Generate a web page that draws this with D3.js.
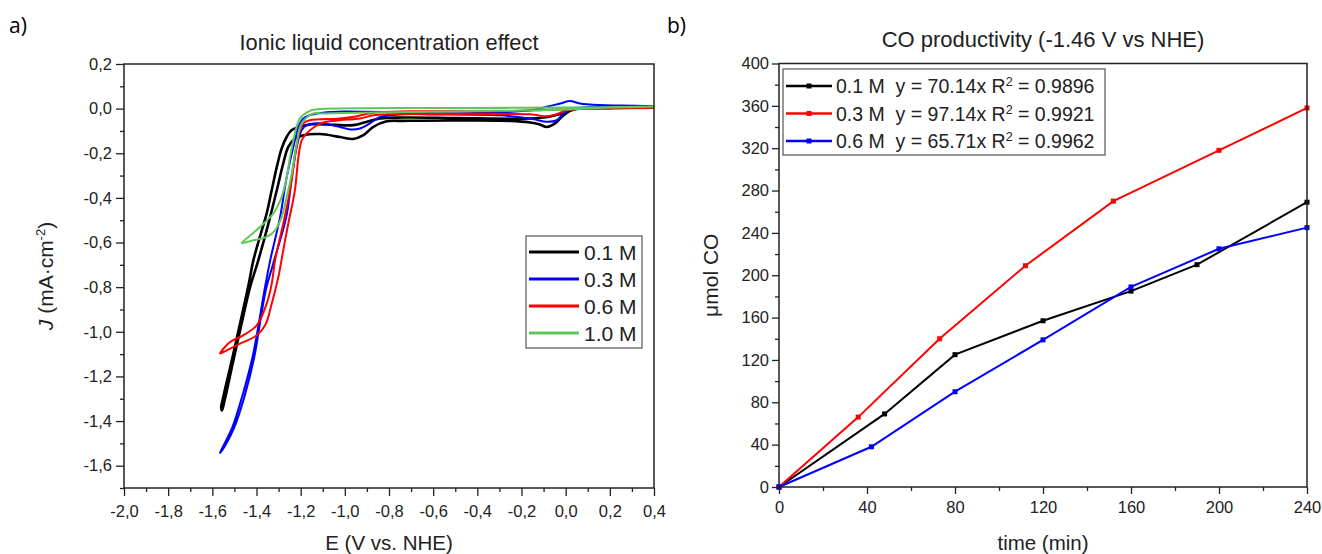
<!DOCTYPE html>
<html>
<head>
<meta charset="utf-8">
<script src="https://cdn.jsdelivr.net/npm/d3@7"></script>
<style>
  body { margin: 0; background: #fff; }
  text { font-family: "Liberation Sans", Arial, sans-serif; fill: #222; }
  .panel { font-family: "Open Sans", "Noto Sans", sans-serif; font-size: 21px; fill: #000; }
</style>
</head>
<body>
<script>
// ---------- data: panel a (cyclic voltammograms, E in V, J in mA/cm2) ----------
const cvLabels = ["0.1 M", "0.3 M", "0.6 M", "1.0 M"];
const cvColors = ["#000000", "#0000ff", "#ff0000", "#5ec85e"];

const cv01 = [[0.40,0.006],[0.25,0.005],[0.12,0.002],[0.065,0.001],[0.02,-0.01],[-0.018,-0.037],[-0.048,-0.066],
  [-0.086,-0.082],[-0.12,-0.07],[-0.161,-0.062],[-0.25,-0.055],[-0.45,-0.053],[-0.65,-0.054],[-0.735,-0.055],
  [-0.81,-0.057],[-0.871,-0.082],[-0.916,-0.119],[-0.962,-0.136],[-1.022,-0.127],[-1.112,-0.114],[-1.188,-0.119],
  [-1.226,-0.134],[-1.256,-0.171],[-1.279,-0.246],[-1.308,-0.365],[-1.346,-0.515],[-1.392,-0.68],[-1.429,-0.80],
  [-1.46,-0.93],[-1.505,-1.13],[-1.545,-1.31],[-1.556,-1.352],[-1.560,-1.34],[-1.55,-1.29],[-1.51,-1.12],
  [-1.465,-0.92],[-1.435,-0.785],[-1.414,-0.679],[-1.376,-0.545],[-1.354,-0.47],[-1.331,-0.365],[-1.308,-0.261],
  [-1.286,-0.178],[-1.263,-0.126],[-1.24,-0.096],[-1.21,-0.084],[-1.15,-0.07],[-1.05,-0.073],[-0.962,-0.074],
  [-0.9,-0.059],[-0.84,-0.044],[-0.735,-0.04],[-0.5,-0.042],[-0.2,-0.045],[-0.1,-0.04],[-0.03,-0.025],
  [0.03,-0.005],[0.1,0.003],[0.25,0.005],[0.40,0.006]];

const cv03 = [[0.40,0.011],[0.3,0.012],[0.15,0.01],[0.065,0.004],[0.035,0.001],[-0.01,-0.022],[-0.04,-0.052],
  [-0.086,-0.059],[-0.15,-0.046],[-0.3,-0.03],[-0.6,-0.026],[-0.735,-0.025],[-0.84,-0.037],[-0.886,-0.066],
  [-0.931,-0.089],[-0.976,-0.093],[-1.022,-0.082],[-1.112,-0.066],[-1.173,-0.074],[-1.195,-0.096],[-1.218,-0.171],
  [-1.24,-0.306],[-1.265,-0.485],[-1.32,-0.68],[-1.358,-0.814],[-1.382,-0.948],[-1.41,-1.113],[-1.455,-1.292],
  [-1.50,-1.427],[-1.545,-1.515],[-1.565,-1.543],[-1.562,-1.535],[-1.51,-1.43],[-1.465,-1.29],[-1.418,-1.113],
  [-1.387,-0.948],[-1.364,-0.814],[-1.338,-0.68],[-1.293,-0.485],[-1.263,-0.306],[-1.233,-0.171],[-1.21,-0.082],
  [-1.188,-0.044],[-1.158,-0.029],[-1.1,-0.018],[-1.0,-0.013],[-0.7,-0.018],[-0.4,-0.02],[-0.15,-0.006],
  [-0.086,0.008],[-0.025,0.023],[0.02,0.034],[0.065,0.023],[0.156,0.016],[0.25,0.014],[0.40,0.011]];

const cv06 = [[0.40,0.003],[0.2,0.0],[0.05,-0.002],[0.005,-0.007],[-0.04,-0.025],[-0.086,-0.034],[-0.16,-0.025],
  [-0.4,-0.025],[-0.8,-0.025],[-0.871,-0.03],[-0.931,-0.044],[-1.022,-0.052],[-1.09,-0.06],[-1.135,-0.08],
  [-1.173,-0.111],[-1.195,-0.141],[-1.21,-0.216],[-1.226,-0.365],[-1.256,-0.515],[-1.279,-0.635],[-1.301,-0.754],
  [-1.331,-0.874],[-1.361,-0.971],[-1.399,-1.016],[-1.475,-1.053],[-1.535,-1.083],[-1.565,-1.098],[-1.52,-1.046],
  [-1.46,-1.016],[-1.399,-0.971],[-1.354,-0.874],[-1.331,-0.784],[-1.316,-0.68],[-1.279,-0.515],[-1.248,-0.365],
  [-1.226,-0.216],[-1.21,-0.126],[-1.188,-0.066],[-1.158,-0.052],[-1.022,-0.044],[-0.95,-0.035],[-0.87,-0.018],
  [-0.7,-0.012],[-0.3,-0.012],[-0.1,-0.006],[0.05,0.0],[0.40,0.004]];

const cv10 = [[0.40,0.008],[0.15,0.003],[0.0,-0.004],[-0.3,-0.01],[-0.7,-0.015],[-1.0,-0.02],[-1.1,-0.022],
  [-1.143,-0.022],[-1.195,-0.066],[-1.218,-0.156],[-1.24,-0.29],[-1.263,-0.395],[-1.286,-0.485],[-1.316,-0.545],
  [-1.354,-0.575],[-1.414,-0.59],[-1.467,-0.602],[-1.43,-0.57],[-1.384,-0.53],[-1.324,-0.47],[-1.286,-0.395],
  [-1.263,-0.306],[-1.248,-0.216],[-1.226,-0.111],[-1.203,-0.044],[-1.158,-0.01],[-1.11,-0.002],[-0.5,0.003],
  [0.0,0.005],[0.40,0.009]];

const cvSeries = [cv01, cv03, cv06, cv10];
const eTicks = [-2.0,-1.8,-1.6,-1.4,-1.2,-1.0,-0.8,-0.6,-0.4,-0.2,0.0,0.2,0.4];
const jTicks = [-1.6,-1.4,-1.2,-1.0,-0.8,-0.6,-0.4,-0.2,0.0,0.2];

// ---------- data: panel b (CO productivity) ----------
const coLabels = ["0.1 M", "0.3 M", "0.6 M"];
const coFits = ["y = 70.14x R", "y = 97.14x R", "y = 65.71x R"];
const coR2 = ["0.9896", "0.9921", "0.9962"];
const coColors = ["#000000", "#ff0000", "#0000ff"];
const time01 = [0, 48, 80, 120, 160, 190, 240];
const co01 = [0, 69, 125, 157, 185, 210, 269];
const time03 = [0, 36, 73, 112, 152, 200, 240];
const co03 = [0, 66, 140, 209, 270, 318, 358];
const time06 = [0, 42, 80, 120, 160, 200, 240];
const co06 = [0, 38, 90, 139, 189, 225, 245];
const coTimes = [time01, time03, time06];
const coValues = [co01, co03, co06];
const timeTicks = [0, 40, 80, 120, 160, 200, 240];
const coTicks = [0, 40, 80, 120, 160, 200, 240, 280, 320, 360, 400];

const svg = d3.select("body").append("svg")
    .attr("width", 1322)
    .attr("height", 554);

const comma = d => d.toFixed(1).replace(".", ",");
const mids = arr => d3.pairs(arr).map(([a, b]) => (a + b) / 2);

function styleAxis(g) {
    g.selectAll(".domain").remove();
    g.selectAll(".tick line").attr("stroke", "#222").attr("stroke-width", 1.3);
    g.selectAll(".tick text").attr("fill", "#222").style("font-size", "16.5px");
}

// ===================== panel a =====================
const A = { left: 124, right: 654, top: 64, bottom: 488 };
const xE = d3.scaleLinear().domain([-2, 0.4]).range([A.left, A.right]);
const yJ = d3.scaleLinear().domain([-1.7, 0.2]).range([A.bottom, A.top]);

svg.append("text").attr("class", "panel").attr("x", 9).attr("y", 33).text("a)");
svg.append("text").attr("x", (A.left + A.right) / 2).attr("y", 49.5)
    .attr("text-anchor", "middle").style("font-size", "21.8px")
    .text("Ionic liquid concentration effect");

svg.append("clipPath").attr("id", "clipA").append("rect")
    .attr("x", A.left).attr("y", A.top).attr("width", A.right - A.left).attr("height", A.bottom - A.top);

const cvLine = d3.line().x(d => xE(d[0])).y(d => yJ(d[1])).curve(d3.curveCatmullRom.alpha(0.5));
svg.append("g").attr("clip-path", "url(#clipA)")
    .selectAll("path")
    .data(cvSeries)
    .join("path")
    .attr("d", cvLine)
    .attr("fill", "none")
    .attr("stroke", (d, i) => cvColors[i])
    .attr("stroke-width", (d, i) => i === 0 ? 2.6 : 2)
    .attr("stroke-linejoin", "round");

// axes a
svg.append("g").attr("transform", `translate(0,${A.bottom})`)
    .call(d3.axisBottom(xE).tickValues(eTicks).tickFormat(comma).tickSize(8).tickPadding(9))
    .call(styleAxis);
svg.append("g").attr("transform", `translate(0,${A.bottom})`)
    .call(d3.axisBottom(xE).tickValues(mids(eTicks)).tickFormat("").tickSize(4))
    .call(styleAxis);
svg.append("g").attr("transform", `translate(${A.left},0)`)
    .call(d3.axisLeft(yJ).tickValues(jTicks).tickFormat(comma).tickSize(8).tickPadding(4))
    .call(styleAxis);
svg.append("g").attr("transform", `translate(${A.left},0)`)
    .call(d3.axisLeft(yJ).tickValues(mids(jTicks).concat([-1.7])).tickFormat("").tickSize(4))
    .call(styleAxis);
svg.append("rect").attr("x", A.left).attr("y", A.top)
    .attr("width", A.right - A.left).attr("height", A.bottom - A.top)
    .attr("fill", "none").attr("stroke", "#222").attr("stroke-width", 1.5);

svg.append("text").attr("x", (A.left + A.right) / 2).attr("y", 550)
    .attr("text-anchor", "middle").style("font-size", "20.5px").text("E (V vs. NHE)");
const jLab = svg.append("text")
    .attr("transform", `translate(53,${(A.top + A.bottom) / 2}) rotate(-90)`)
    .attr("text-anchor", "middle").style("font-size", "21px");
jLab.append("tspan").style("font-style", "italic").text("J");
jLab.append("tspan").text(" (mA·cm");
jLab.append("tspan").attr("dy", -8).style("font-size", "13px").text("-2");
jLab.append("tspan").attr("dy", 8).text(")");

// legend a
const legA = svg.append("g").attr("transform", "translate(526,236)");
legA.append("rect").attr("width", 116).attr("height", 112)
    .attr("fill", "#fff").attr("stroke", "#555").attr("stroke-width", 1.2);
const legARows = legA.selectAll("g.row").data(cvLabels).join("g")
    .attr("class", "row")
    .attr("transform", (d, i) => `translate(0,${16 + i * 27})`);
legARows.append("line").attr("x1", 3).attr("x2", 53)
    .attr("stroke", (d, i) => cvColors[i]).attr("stroke-width", 3);
legARows.append("text").attr("x", 58).attr("dy", "0.36em")
    .style("font-size", "21px").text(d => d);

// ===================== panel b =====================
const B = { left: 779, right: 1307, top: 63.5, bottom: 487 };
const xT = d3.scaleLinear().domain([0, 240]).range([B.left, B.right]);
const yC = d3.scaleLinear().domain([0, 400]).range([B.bottom, B.top]);

svg.append("text").attr("class", "panel").attr("x", 667).attr("y", 33).text("b)");
svg.append("text").attr("x", (B.left + B.right) / 2).attr("y", 47)
    .attr("text-anchor", "middle").style("font-size", "22px")
    .text("CO productivity (-1.46 V vs NHE)");

const coLine = d3.line().x(d => xT(d[0])).y(d => yC(d[1]));
const coSeries = coTimes.map((t, i) => d3.zip(t, coValues[i]));
const seriesG = svg.append("g").selectAll("g").data(coSeries).join("g");
seriesG.append("path")
    .attr("d", coLine)
    .attr("fill", "none")
    .attr("stroke", (d, i) => coColors[i])
    .attr("stroke-width", 2);
seriesG.each(function(d, i) {
    d3.select(this).selectAll("rect")
        .data(d)
        .join("rect")
        .attr("x", p => xT(p[0]) - 2.5)
        .attr("y", p => yC(p[1]) - 2.5)
        .attr("width", 5).attr("height", 5)
        .attr("fill", coColors[i]);
});

// axes b
svg.append("g").attr("transform", `translate(0,${B.bottom})`)
    .call(d3.axisBottom(xT).tickValues(timeTicks).tickSize(7).tickPadding(7))
    .call(styleAxis);
svg.append("g").attr("transform", `translate(0,${B.bottom})`)
    .call(d3.axisBottom(xT).tickValues(mids(timeTicks)).tickFormat("").tickSize(4))
    .call(styleAxis);
svg.append("g").attr("transform", `translate(${B.left},0)`)
    .call(d3.axisLeft(yC).tickValues(coTicks).tickSize(7).tickPadding(3))
    .call(styleAxis);
svg.append("g").attr("transform", `translate(${B.left},0)`)
    .call(d3.axisLeft(yC).tickValues(mids(coTicks)).tickFormat("").tickSize(4))
    .call(styleAxis);
svg.append("rect").attr("x", B.left).attr("y", B.top)
    .attr("width", B.right - B.left).attr("height", B.bottom - B.top)
    .attr("fill", "none").attr("stroke", "#222").attr("stroke-width", 1.5);

svg.append("text").attr("x", (B.left + B.right) / 2).attr("y", 550)
    .attr("text-anchor", "middle").style("font-size", "20.5px").text("time (min)");
svg.append("text")
    .attr("transform", `translate(718,${(B.top + B.bottom) / 2}) rotate(-90)`)
    .attr("text-anchor", "middle").style("font-size", "21px").text("μmol CO");

// legend b
const legB = svg.append("g").attr("transform", "translate(783,69)");
legB.append("rect").attr("width", 322).attr("height", 86)
    .attr("fill", "#fff").attr("stroke", "#555").attr("stroke-width", 1.2);
const legBRows = legB.selectAll("g.row").data(coLabels).join("g")
    .attr("class", "row")
    .attr("transform", (d, i) => `translate(0,${17 + i * 27.5})`);
legBRows.append("line").attr("x1", 3).attr("x2", 49)
    .attr("stroke", (d, i) => coColors[i]).attr("stroke-width", 2.5);
legBRows.append("rect").attr("x", 23.5).attr("y", -2.5).attr("width", 5).attr("height", 5)
    .attr("fill", (d, i) => coColors[i]);
const legBText = legBRows.append("text").attr("x", 53).attr("dy", "0.36em")
    .style("font-size", "19.5px").attr("xml:space", "preserve");
legBText.append("tspan").text((d, i) => `${d}  ${coFits[i]}`);
legBText.append("tspan").attr("dy", -7).style("font-size", "12.5px").text("2");
legBText.append("tspan").attr("dy", 7).text((d, i) => ` = ${coR2[i]}`);
</script>
</body>
</html>
